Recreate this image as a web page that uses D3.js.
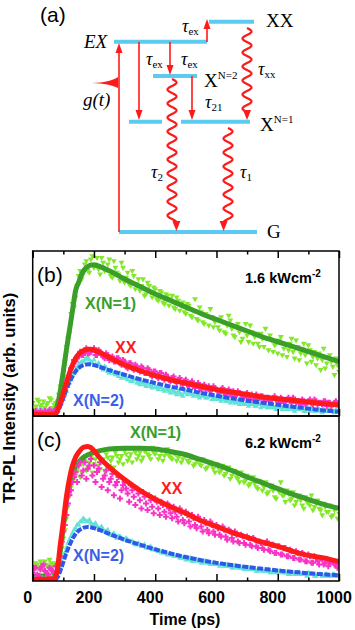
<!DOCTYPE html>
<html>
<head>
<meta charset="utf-8">
<script src="https://cdn.jsdelivr.net/npm/d3@7"></script>
<style>
  body { margin: 0; background: #fff; }
  svg { display: block; }
</style>
</head>
<body>
<svg width="355" height="630"></svg>
<script>
// ---- data (intensity in % of panel height) ----
// scatter: "even" arrays at 0,10,..,1000 ps; "odd" arrays at 5,15,..,995 ps
const tStep = 10;

const greenB = [8,6,9,7,5,8,10,7,9,18,24,42,50,68,72,85,83,92,88,95,90,96,86,93,89,95,84,90,86,93,
  81,87,79,85,80,76,83,74,79,72,77,70,75,68,73,71,66,72,64,69,62,67,60,71,58,63,56,61,65,54,
  59,52,57,50,61,53,48,56,45,52,49,55,44,50,42,47,53,40,46,43,38,48,41,36,44,39,46,34,41,37,
  43,33,39,35,28,41,32,37,30,35,27];
const greenBOdd = [4,10,6,9,7,11,5,8,13,21,
  33,47,62,66,79,88,86,94,87,97,
  92,89,96,88,92,85,94,87,82,90,
  84,80,88,77,83,79,73,81,75,78,
  71,76,69,74,67,73,65,70,67,63,
  68,61,64,59,66,57,62,55,60,57,
  54,60,51,55,58,49,54,51,47,56,
  45,51,48,44,50,42,47,49,39,44,
  46,37,43,40,47,35,42,38,44,32,
  40,36,31,38,34,29,36,33,25,31];
const magentaB = [2,3,1,2,3,2,1,3,4,9,12,22,24,30,33,36,37,39,38,39,41,37,39,36,38,34,36,33,35,31,
  33,29,32,28,30,27,29,26,28,24,27,23,26,22,24,21,24,20,23,19,22,18,21,17,20,16,19,17,15,18,
  16,14,17,13,16,14,12,15,13,11,14,12,10,13,11,12,9,11,10,12,9,11,8,10,9,11,8,9,10,7,
  9,8,10,7,8,9,6,8,7,9,6];
const magentaBOdd = [1,2,3,1,2,4,2,3,6,10,
  17,21,29,34,35,39,37,41,38,40,
  37,40,37,35,37,35,33,35,32,34,
  30,32,29,31,28,30,26,29,25,27,
  24,26,23,25,22,23,21,22,20,21,
  19,20,18,19,17,18,16,18,16,17,
  15,16,14,15,13,15,13,14,12,13,
  11,13,12,10,12,10,11,9,11,10,
  8,10,9,11,8,10,9,7,9,8,
  10,7,9,8,7,9,8,6,8,7];
const cyanB = [3,1,2,4,2,3,1,2,4,7,10,15,20,25,28,31,33,34,35,33,34,31,30,28,29,26,27,25,24,23,
  24,22,21,22,20,19,20,18,19,17,18,16,17,15,16,14,15,13,14,12,15,14,13,14,12,13,12,11,12,10,
  11,10,11,9,10,9,8,9,8,7,8,7,8,6,7,6,7,5,6,5,6,5,6,4,5,4,5,4,5,3,
  4,5,3,4,3,4,3,4,3,4,3];
const cyanBOdd = [2,4,1,3,2,1,3,2,5,8,
  13,18,22,26,29,32,33,35,34,32,
  31,32,29,30,27,28,26,25,26,24,
  23,24,21,22,20,21,19,20,18,19,
  17,18,16,17,15,16,14,15,13,14,
  13,14,12,13,11,12,11,12,10,11,
  10,9,10,9,8,9,8,7,8,7,
  6,7,6,7,5,6,5,6,5,4,
  5,4,5,4,5,3,4,5,3,4,
  3,4,3,4,2,3,4,3,2,3];

const greenC = [9,11,8,10,12,9,11,10,9,14,26,38,52,60,64,70,66,73,69,75,71,76,68,74,77,70,75,78,72,76,
  79,73,77,80,74,78,75,79,76,81,77,74,79,76,80,75,78,73,77,74,76,72,75,71,74,70,73,69,72,68,
  71,66,70,65,69,64,67,62,66,60,64,59,63,57,61,55,60,54,58,51,56,60,52,55,49,54,48,52,46,51,
  47,52,45,49,43,47,42,46,40,44,41];
const greenCOdd = [7,10,12,8,10,13,9,11,12,20,
  31,45,57,62,67,63,71,67,72,66,
  74,70,72,67,75,73,69,76,74,71,
  77,75,72,78,76,73,79,77,74,78,
  80,76,73,78,76,74,77,75,72,77,
  73,75,70,73,71,74,68,71,70,66,
  69,67,64,67,62,66,63,60,64,61,
  58,62,59,56,60,57,53,57,55,50,
  54,52,48,53,50,46,51,49,44,48,
  46,43,47,44,40,45,42,39,43,38];
const magentaC = [5,8,3,9,6,4,7,5,6,15,30,40,52,60,66,70,64,72,68,74,70,66,72,62,67,60,65,58,63,55,
  60,53,58,51,56,49,54,47,52,45,50,44,48,42,47,41,45,39,44,37,42,36,40,34,39,33,37,31,36,30,
  34,28,33,27,31,26,30,24,28,23,27,22,26,21,24,20,23,19,22,17,21,16,20,15,19,14,18,13,17,12,
  16,11,15,12,14,10,13,11,12,10,11];
const magentaCOdd = [8,4,7,10,5,8,6,9,10,24,
  34,47,55,63,60,72,67,62,70,64,
  60,68,57,64,55,62,52,60,50,58,
  56,48,55,46,53,44,51,43,49,41,
  48,40,46,39,44,38,42,36,41,35,
  40,33,38,32,37,30,35,29,34,28,
  32,27,31,25,30,24,28,23,27,22,
  26,21,25,20,23,19,24,18,22,17,
  21,16,20,15,18,14,17,13,16,12,
  15,11,14,10,13,11,9,12,10,8];
const cyanC = [2,1,3,2,1,2,3,1,3,8,14,20,25,29,32,34,36,37,36,35,34,33,32,31,30,29,28,27,27,26,
  25,25,24,23,22,22,21,20,20,19,19,18,17,17,16,16,15,15,14,14,13,13,12,13,12,11,12,11,10,11,
  10,9,10,9,9,8,9,8,8,7,8,7,7,6,7,6,6,7,5,6,5,6,5,5,4,5,4,5,4,4,
  5,4,3,4,4,3,4,3,4,3,4];
const cyanCOdd = [1,3,2,1,3,2,1,2,5,11,
  17,23,27,31,34,36,38,36,37,34,
  35,32,33,30,31,28,29,26,27,25,
  26,24,24,22,23,21,22,20,21,19,
  19,18,18,17,16,16,15,15,14,14,
  13,14,12,13,12,11,12,11,10,11,
  10,10,9,10,9,8,9,8,8,7,
  8,7,7,6,7,6,6,5,6,5,
  6,5,5,4,5,4,5,4,4,3,
  4,4,3,4,3,4,3,3,4,3];

// fitted curves
const fitT = [0,70,80,90,100,110,120,130,140,150,160,170,180,190,200,220,250,300,350,400,450,500,550,600,650,700,750,800,850,900,950,1000];
const greenFitB = [2,2,6,15,27,40,52,64,76,81,86,89,90.5,91.5,91.5,90.5,88,83,78.5,74,70,66,62,58.5,55,51.5,48,45,42,39,36,33];
const redFitB   = [1,1,3,8,14,20,26,31,35,37.5,39,40,40.5,40.5,40,38.5,35.5,31,27.5,24.5,22,20,18,16,14.5,13,11.5,10.5,9.5,8.5,7.5,6.7];
const blueFitB  = [0.5,0.5,2,6,11,16,20.5,24,27,29,30.3,31,31.3,31.2,30.8,29.7,27.8,25,22.3,20,17.8,16,14,12.3,10.7,9.3,8,6.8,5.6,4.5,3.4,2.5];
const greenFitC = [3,3,5,18,33,48,58,65,69.5,72,74,75.5,76.5,77.3,78,79,80,80.5,80.5,80,78.5,76.5,73.5,70.5,67,63,59.5,56,52.5,49.5,46.5,44];
const redFitC   = [1,1.5,6,22,36,51,62,70,75,78,80.3,81.3,81.5,80.8,79,74.5,69,61.5,55,49.5,45,41,36.5,33,29.5,26.5,23.5,21,18,15.5,14,11.7];
const blueFitC  = [0.5,0.5,2,6,11.5,17,21.5,25.5,28.5,30.5,31.8,32.5,32.7,32.5,32,30.8,28.5,25,22,19.2,16.7,14.5,12.6,11,9.7,8.5,7.4,6.4,5.5,4.7,4,3.5];

const xTickLabels = [0,200,400,600,800,1000];

// ---- diagram (a) ----
const levels = [
  { x1: 114, x2: 207, y: 41.7 },   // EX
  { x1: 209, x2: 254, y: 21.7 },   // XX
  { x1: 153, x2: 197, y: 76 },     // X N=2
  { x1: 129, x2: 162, y: 121.7 },  // lower left
  { x1: 181, x2: 250, y: 121.7 },  // X N=1
  { x1: 119, x2: 257, y: 232 }     // G
];
const straightArrows = [
  { x: 119, y1: 232, y2: 43 },
  { x: 207, y1: 42, y2: 19 },
  { x: 139, y1: 42, y2: 120 },
  { x: 170, y1: 42, y2: 75 },
  { x: 192, y1: 76, y2: 120 }
];
const wavyArrows = [
  { x: 247, y1: 28, y2: 120 },
  { x: 172, y1: 79, y2: 231 },
  { x: 228, y1: 128, y2: 231 }
];
const tauLabels = [
  { x: 182, y: 32, sub: "ex" },
  { x: 146, y: 65, sub: "ex" },
  { x: 181, y: 65, sub: "ex" },
  { x: 205, y: 108, sub: "21" },
  { x: 258, y: 75, sub: "xx" },
  { x: 151, y: 178, sub: "2" },
  { x: 240, y: 178, sub: "1" }
];

const svg = d3.select("svg");
const RED = "#ff1a1a", LEVEL = "#5ccbef";
const serif = "'Liberation Serif', 'DejaVu Serif', serif";
const sans = "'Liberation Sans', Arial, sans-serif";

const diag = svg.append("g");

diag.append("text").attr("x", 40).attr("y", 22)
  .attr("font-family", sans).attr("font-size", 21).text("(a)");

diag.selectAll(".level").data(levels).join("line")
  .attr("x1", d => d.x1).attr("x2", d => d.x2)
  .attr("y1", d => d.y).attr("y2", d => d.y)
  .attr("stroke", LEVEL).attr("stroke-width", 4);

function arrowHead(g, x, tipY, dir, w, l) {
  // dir = 1 pointing down, -1 pointing up
  g.append("path")
    .attr("d", `M${x},${tipY} L${x - w / 2},${tipY - dir * l} L${x + w / 2},${tipY - dir * l} Z`)
    .attr("fill", RED);
}

straightArrows.forEach(a => {
  const dir = a.y2 > a.y1 ? 1 : -1;
  diag.append("line")
    .attr("x1", a.x).attr("x2", a.x)
    .attr("y1", a.y1).attr("y2", a.y2 - dir * 6)
    .attr("stroke", RED).attr("stroke-width", 1.6);
  arrowHead(diag, a.x, a.y2, dir, 7, 10);
});

wavyArrows.forEach(a => {
  const end = a.y2 - 8;
  const pts = d3.range(a.y1, end + 0.1, 0.5).map(y => [a.x + 4.5 * Math.sin((y - a.y1) / 14 * 2 * Math.PI), y]);
  diag.append("path")
    .attr("d", d3.line()(pts))
    .attr("fill", "none").attr("stroke", RED).attr("stroke-width", 2.2);
  const lastX = pts[pts.length - 1][0];
  arrowHead(diag, lastX, a.y2, 1, 8, 10);
});

// g(t) pulse
diag.append("path")
  .attr("d", "M92,83 C104,82.5 112,81 118,77 L118,88 C112,85 104,83.5 92,83 Z")
  .attr("fill", RED);

diag.append("text").attr("x", 84).attr("y", 48)
  .attr("font-family", serif).attr("font-style", "italic").attr("font-size", 19).text("EX");
diag.append("text").attr("x", 83).attr("y", 106)
  .attr("font-family", serif).attr("font-style", "italic").attr("font-size", 19).text("g(t)");
diag.append("text").attr("x", 266).attr("y", 27)
  .attr("font-family", serif).attr("font-size", 19).text("XX");
diag.append("text").attr("x", 267).attr("y", 238)
  .attr("font-family", serif).attr("font-size", 19).text("G");

[{ x: 204, y: 87, sup: "N=2" }, { x: 260, y: 131, sup: "N=1" }].forEach(s => {
  const t = diag.append("text").attr("x", s.x).attr("y", s.y)
    .attr("font-family", serif).attr("font-size", 19);
  t.append("tspan").text("X");
  t.append("tspan").attr("font-size", 11).attr("dy", -8).text(s.sup);
});

tauLabels.forEach(s => {
  const t = diag.append("text").attr("x", s.x).attr("y", s.y)
    .attr("font-family", serif).attr("font-size", 18);
  t.append("tspan").attr("font-style", "italic").text("τ");
  t.append("tspan").attr("font-size", 11).attr("dy", 3).text(s.sub);
});

// ---- panels (b) and (c) ----
const x = d3.scaleLinear().domain([0, 1000]).range([32.7, 339]);

// merge the 10 ps grid and the shifted 5 ps grid into {t, v} points
const merge = (even, odd) => even.map((v, j) => ({ t: j * tStep, v }))
  .concat(odd.map((v, j) => ({ t: j * tStep + tStep / 2, v })));

const panels = [
  { top: 251, bottom: 416, tag: "(b)", power: "1.6",
    green: merge(greenB, greenBOdd), magenta: merge(magentaB, magentaBOdd), cyan: merge(cyanB, cyanBOdd),
    gFit: greenFitB, rFit: redFitB, bFit: blueFitB,
    labels: [{ t: "X(N=1)", x: 85, y: 309, c: "#3a9e2a" }, { t: "XX", x: 115, y: 353, c: RED }, { t: "X(N=2)", x: 73, y: 406, c: "#3d5fe6" }] },
  { top: 416, bottom: 581, tag: "(c)", power: "6.2",
    green: merge(greenC, greenCOdd), magenta: merge(magentaC, magentaCOdd), cyan: merge(cyanC, cyanCOdd),
    gFit: greenFitC, rFit: redFitC, bFit: blueFitC,
    labels: [{ t: "X(N=1)", x: 130, y: 438, c: "#3a9e2a" }, { t: "XX", x: 161, y: 494, c: RED }, { t: "X(N=2)", x: 73, y: 561, c: "#3d5fe6" }] }
];

const triDown = d3.symbol().type(d3.symbolTriangle).size(15);
const triUp = d3.symbol().type(d3.symbolTriangle).size(13);
const cross = d3.symbol().type(d3.symbolCross).size(20);

panels.forEach((p, i) => {
  const y = d3.scaleLinear().domain([0, 100]).range([p.bottom, p.top]);
  const g = svg.append("g");
  const clipId = "clip" + i;
  svg.append("clipPath").attr("id", clipId).append("rect")
    .attr("x", x.range()[0]).attr("y", p.top)
    .attr("width", x.range()[1] - x.range()[0]).attr("height", p.bottom - p.top);
  const plot = g.append("g").attr("clip-path", `url(#${clipId})`);

  const line = d3.line().x((d, j) => x(fitT[j])).y(d => y(d)).curve(d3.curveMonotoneX);

  const pts = (arr, cls, sym, color, rot) => plot.selectAll("." + cls).data(arr).join("path")
    .attr("class", cls)
    .attr("d", sym)
    .attr("transform", d => `translate(${x(d.t)},${y(d.v)}) rotate(${rot})`)
    .attr("fill", color);

  pts(p.green, "gp", triDown, "#84e82a", 180);
  plot.append("path").attr("d", line(p.gFit)).attr("fill", "none")
    .attr("stroke", "#3a9e2a").attr("stroke-width", 5);
  pts(p.cyan, "cp", triUp, "#5fe3d6", 0);
  pts(p.magenta, "mp", cross, "#f833c4", 0);
  plot.append("path").attr("d", line(p.bFit)).attr("fill", "none")
    .attr("stroke", "#2f58ea").attr("stroke-width", 4).attr("stroke-dasharray", "6,1.5");
  plot.append("path").attr("d", line(p.rFit)).attr("fill", "none")
    .attr("stroke", RED).attr("stroke-width", 5);

  // frame
  g.append("rect").attr("x", x.range()[0]).attr("y", p.top)
    .attr("width", x.range()[1] - x.range()[0]).attr("height", p.bottom - p.top)
    .attr("fill", "none").attr("stroke", "#000").attr("stroke-width", 1.5);

  // inward ticks: bottom pointing up
  const bottomMajor = g.append("g").attr("transform", `translate(0,${p.bottom})`)
    .call(d3.axisBottom(x).tickValues(d3.range(0, 1001, 200)).tickSize(-7).tickFormat(""));
  const bottomMinor = g.append("g").attr("transform", `translate(0,${p.bottom})`)
    .call(d3.axisBottom(x).tickValues(d3.range(100, 1000, 200)).tickSize(-3.5).tickFormat(""));
  [bottomMajor, bottomMinor].forEach(a => {
    a.select(".domain").remove();
    a.selectAll("line").attr("stroke-width", 1.5);
  });
  if (i === 0) {
    const topMajor = g.append("g").attr("transform", `translate(0,${p.top})`)
      .call(d3.axisTop(x).tickValues(d3.range(0, 1001, 200)).tickSize(-7).tickFormat(""));
    const topMinor = g.append("g").attr("transform", `translate(0,${p.top})`)
      .call(d3.axisTop(x).tickValues(d3.range(100, 1000, 200)).tickSize(-3.5).tickFormat(""));
    [topMajor, topMinor].forEach(a => {
      a.select(".domain").remove();
      a.selectAll("line").attr("stroke-width", 1.5);
    });
  }

  g.append("text").attr("x", 37).attr("y", p.top + 31)
    .attr("font-family", sans).attr("font-size", 21).text(p.tag);

  const pw = g.append("text").attr("x", 245).attr("y", p.top + 32)
    .attr("font-family", sans).attr("font-weight", "bold").attr("font-size", 14.5);
  pw.append("tspan").text(p.power + " kWcm");
  pw.append("tspan").attr("font-size", 10).attr("dy", -6).text("-2");

  p.labels.forEach(l => {
    g.append("text").attr("x", l.x).attr("y", l.y)
      .attr("font-family", sans).attr("font-weight", "bold").attr("font-size", 16)
      .attr("fill", l.c).text(l.t);
  });
});

// x tick labels
svg.append("g").selectAll("text").data(xTickLabels).join("text")
  .attr("x", d => x(d) - 5).attr("y", 602.5)
  .attr("text-anchor", "middle")
  .attr("font-family", sans).attr("font-weight", "bold").attr("font-size", 16)
  .text(d => d);

svg.append("text").attr("x", 185).attr("y", 625)
  .attr("text-anchor", "middle")
  .attr("font-family", sans).attr("font-weight", "bold").attr("font-size", 16)
  .text("Time (ps)");

svg.append("text")
  .attr("transform", "translate(15,398) rotate(-90)")
  .attr("text-anchor", "middle")
  .attr("font-family", sans).attr("font-weight", "bold").attr("font-size", 16.5)
  .text("TR-PL Intensity (arb. units)");
</script>
</body>
</html>
